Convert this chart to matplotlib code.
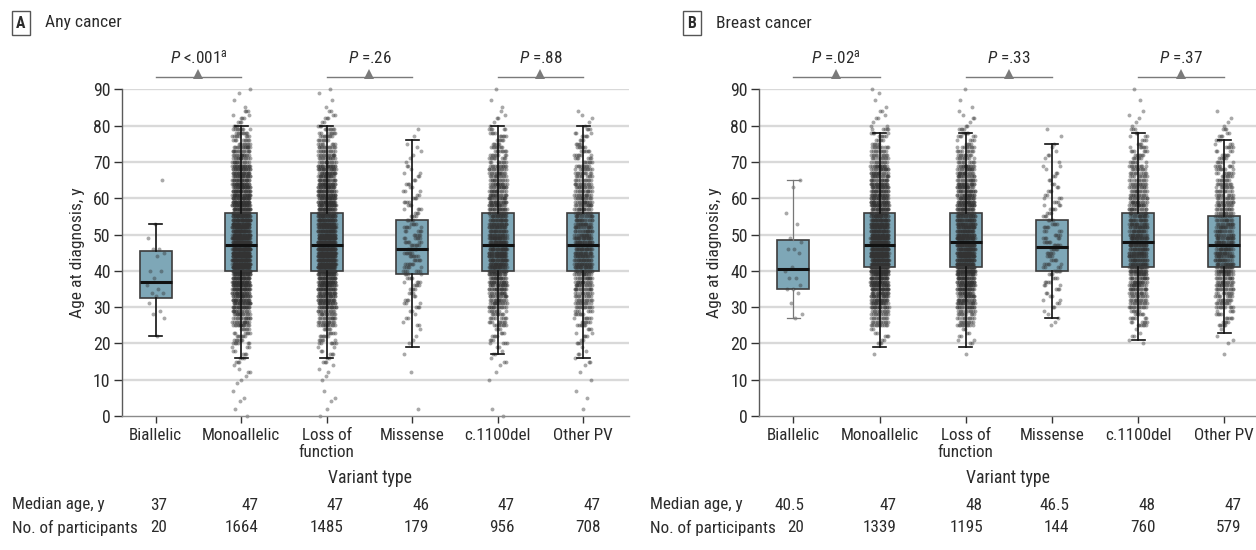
import numpy as np
import matplotlib
matplotlib.use('Agg')
import matplotlib.pyplot as plt
from matplotlib import font_manager
from matplotlib.transforms import blended_transform_factory

# ---------------- data ----------------
categories = ['Biallelic', 'Monoallelic', 'Loss of\nfunction', 'Missense', 'c.1100del', 'Other PV']

# box-plot statistics: (whisker low, Q1, median, Q3, whisker high)
A_whislo = [22, 16, 16, 19, 17, 16]
A_q1 = [32.5, 40, 40, 39, 40, 40]
A_med = [37, 47, 47, 46, 47, 47]
A_q3 = [45.5, 56, 56, 54, 56, 56]
A_whishi = [53, 80, 80, 76, 80, 80]

B_whislo = [27, 19, 19, 27, 21, 23]
B_q1 = [35, 41, 41, 40, 41, 41]
B_med = [40.5, 47, 48, 46.5, 48, 47]
B_q3 = [48.5, 56, 56, 54, 56, 55]
B_whishi = [65, 78, 78, 75, 78, 76]

# individual ages of the small biallelic groups
A_biallelic_ages = [65, 53, 49, 46, 46, 45, 44, 40, 40, 38, 36, 35, 34, 34, 33, 31, 29, 28, 27, 22]
B_biallelic_ages = [65, 63, 56, 53, 49, 48, 46, 46, 45, 41, 40, 38, 38, 36, 35, 35, 34, 31, 28, 27]

# counts of participants per 5-year age bin (0-4, 5-9, ..., 85-89, 90) for the large groups
age_bin_starts = [0, 5, 10, 15, 20, 25, 30, 35, 40, 45, 50, 55, 60, 65, 70, 75, 80, 85, 90]
A_mono_counts = [3, 3, 6, 14, 30, 70, 120, 170, 250, 250, 200, 170, 140, 110, 70, 40, 14, 3, 1]
A_lof_counts = [3, 2, 5, 12, 27, 62, 107, 152, 222, 224, 180, 152, 125, 98, 62, 36, 12, 3, 1]
A_mis_counts = [1, 0, 1, 1, 4, 8, 14, 20, 28, 30, 24, 18, 13, 9, 5, 3, 0, 0, 0]
A_del_counts = [2, 0, 3, 8, 17, 40, 70, 98, 145, 145, 115, 98, 80, 62, 40, 24, 6, 2, 1]
A_oth_counts = [1, 2, 3, 7, 13, 30, 52, 72, 106, 106, 85, 72, 60, 47, 30, 17, 5, 0, 0]

B_mono_counts = [0, 0, 0, 1, 12, 55, 100, 150, 215, 215, 170, 140, 110, 85, 50, 24, 8, 3, 1]
B_lof_counts = [0, 0, 0, 1, 10, 48, 90, 135, 192, 192, 152, 125, 98, 76, 45, 21, 7, 2, 1]
B_mis_counts = [0, 0, 0, 0, 0, 5, 10, 16, 22, 25, 20, 16, 12, 9, 6, 3, 0, 0, 0]
B_del_counts = [0, 0, 0, 0, 6, 30, 58, 85, 120, 122, 98, 80, 62, 48, 30, 14, 5, 1, 1]
B_oth_counts = [0, 0, 0, 1, 4, 22, 44, 65, 92, 92, 72, 60, 48, 37, 24, 14, 4, 0, 0]

A_median_labels = ['37', '47', '47', '46', '47', '47']
A_n_labels = ['20', '1664', '1485', '179', '956', '708']
B_median_labels = ['40.5', '47', '48', '46.5', '48', '47']
B_n_labels = ['20', '1339', '1195', '144', '760', '579']

A_pvals = [r'$\mathit{P}$ <.001$^{\mathrm{a}}$', r'$\mathit{P}$ =.26', r'$\mathit{P}$ =.88']
B_pvals = [r'$\mathit{P}$ =.02$^{\mathrm{a}}$', r'$\mathit{P}$ =.33', r'$\mathit{P}$ =.37']

# ---------------- style ----------------
fl = font_manager.fontManager.ttflist
names = {f.name for f in fl}
MAIN = None
STRETCH = 'normal'
for cand in ['Roboto Condensed', 'Liberation Sans Narrow', 'Open Sans Condensed', 'Arial Narrow']:
    if cand in names:
        MAIN = cand
        break
if MAIN is None:
    if any(f.name == 'DejaVu Sans' and f.stretch == 'condensed' for f in fl):
        MAIN = 'DejaVu Sans'
        STRETCH = 'condensed'
    elif any(f.name == 'Open Sans' and f.stretch in ('condensed', 'semi-condensed') for f in fl):
        MAIN = 'Open Sans'
        STRETCH = 'condensed'
    else:
        MAIN = 'Roboto' if 'Roboto' in names else 'DejaVu Sans'
plt.rcParams['font.family'] = [MAIN, 'DejaVu Sans']
plt.rcParams['font.stretch'] = STRETCH
plt.rcParams['mathtext.fontset'] = 'custom'
plt.rcParams['mathtext.rm'] = MAIN
plt.rcParams['mathtext.it'] = MAIN + ':italic'
plt.rcParams['mathtext.bf'] = MAIN + ':bold'

TXT = '#2b2b2b'
BOX = '#7ea7b7'
FS = 12.3

W, H = 1256, 550
fig = plt.figure(figsize=(W / 100, H / 100), dpi=100)
bottom = 1 - 416 / H
height = (416 - 89.3) / H
axA = fig.add_axes([121.7 / W, bottom, 85.5 * 5.933 / W, height])
axB = fig.add_axes([759 / W, bottom, 86.2 * 5.933 / W, height])

BIN_ORDER = [2, 0, 4, 1, 3]


def ages_from_bins(counts):
    out = []
    for start, c in zip(age_bin_starts, counts):
        for j in range(c):
            if start >= 90:
                out.append(90)
            else:
                out.append(start + BIN_ORDER[j % 5])
    return out


def jitter(n, k0):
    g = 0.6180339887
    return np.array([((k0 + k) * g) % 1.0 - 0.5 for k in range(n)]) * 0.21


def panel(ax, whislo, q1, med, q3, whishi, groups, pvals, med_labels, n_labels,
          label_x, title_letter, title, title_x, vt_x, gray_first_whisker=False):
    pos = np.arange(len(categories))
    ax.set_xlim(-0.398, 5.535)
    ax.set_ylim(0, 90)
    for y in range(10, 91, 10):
        ax.axhline(y, color='#d9d9d9', lw=1.7, zorder=0)

    stats = [dict(whislo=a, q1=b, med=c, q3=d, whishi=e, fliers=[])
             for a, b, c, d, e in zip(whislo, q1, med, q3, whishi)]
    # fill
    ax.bxp(stats, positions=pos, widths=0.37, patch_artist=True, showfliers=False,
           boxprops=dict(facecolor=BOX, edgecolor='none'),
           whiskerprops=dict(linewidth=0), capprops=dict(linewidth=0),
           medianprops=dict(linewidth=0), manage_ticks=False, zorder=1)
    # points
    for i, ages in enumerate(groups):
        ages = np.array(ages, dtype=float)
        xs = pos[i] + jitter(len(ages), 7 * i + 3)
        ax.scatter(xs, ages, s=8, color='#333333', alpha=0.42, linewidths=0,
                   zorder=2, clip_on=False)
    # outlines
    art = ax.bxp(stats, positions=pos, widths=0.37, patch_artist=True, showfliers=False,
                 boxprops=dict(facecolor='none', edgecolor='#3c3c3c', linewidth=1.2),
                 whiskerprops=dict(color='#111111', linewidth=1.2),
                 capprops=dict(color='#111111', linewidth=1.2),
                 medianprops=dict(color='#111111', linewidth=2.2),
                 capwidths=0.15, manage_ticks=False, zorder=3)
    if gray_first_whisker:
        for ln in art['whiskers'][:2] + art['caps'][:2]:
            ln.set_color('#777777')
            ln.set_linewidth(0.9)

    # p-value brackets
    for k, p in enumerate(pvals):
        x0, x1 = pos[2 * k], pos[2 * k + 1]
        xm = (x0 + x1) / 2
        ax.plot([x0, x1], [93.4, 93.4], color='#7a7a7a', lw=1.0, clip_on=False, zorder=4)
        ax.plot([xm], [94.3], marker='^', markersize=6.5, color='#7a7a7a',
                markeredgewidth=0, clip_on=False, zorder=4)
        ax.text(xm, 98.7, p, ha='center', va='center', fontsize=FS, color=TXT, clip_on=False)

    # axes styling
    for s in ['top', 'right']:
        ax.spines[s].set_visible(False)
    ax.spines['left'].set_color('#5a5a5a')
    ax.spines['bottom'].set_color('#8a8a8a')
    ax.spines['left'].set_linewidth(1.0)
    ax.spines['bottom'].set_linewidth(1.0)
    ax.set_yticks(range(0, 91, 10))
    ax.set_xticks(pos)
    ax.set_xticklabels(categories, fontsize=FS, color=TXT, linespacing=1.1)
    ax.tick_params(axis='y', length=6, width=1.0, color='#333333', labelsize=FS + 0.5,
                   labelcolor=TXT, pad=2)
    ax.tick_params(axis='x', length=5, width=1.0, color='#333333', labelsize=FS,
                   labelcolor=TXT, pad=4)
    ax.set_ylabel('Age at diagnosis, y', fontsize=FS + 0.3, color=TXT, labelpad=6)

    # titles
    fig.text(title_x / W, 1 - 23 / H, title_letter, ha='center', va='center',
             fontsize=FS - 1, fontweight='bold', color=TXT,
             bbox=dict(boxstyle='square,pad=0.3', fc='white', ec='#555555', lw=1.0))
    fig.text((title_x + 24) / W, 1 - 23 / H, title, ha='left', va='center',
             fontsize=FS + 0.3, color=TXT)

    fig.text(vt_x / W, 1 - 478 / H, 'Variant type', ha='center', va='center',
             fontsize=FS + 0.5, color=TXT)

    # bottom table
    tr = blended_transform_factory(ax.transData, fig.transFigure)
    fig.text(label_x / W, 1 - 505 / H, 'Median age, y', ha='left', va='center',
             fontsize=FS, color=TXT)
    fig.text(label_x / W, 1 - 528 / H, 'No. of participants', ha='left', va='center',
             fontsize=FS, color=TXT)
    for i in range(len(categories)):
        off = 0.13 if i == 0 else 0.2
        ax.text(pos[i] + off, 1 - 505 / H, med_labels[i], transform=tr, ha='right',
                va='center', fontsize=FS, color=TXT, clip_on=False)
        ax.text(pos[i] + off, 1 - 528 / H, n_labels[i], transform=tr, ha='right',
                va='center', fontsize=FS, color=TXT, clip_on=False)


A_groups = [A_biallelic_ages, ages_from_bins(A_mono_counts), ages_from_bins(A_lof_counts),
            ages_from_bins(A_mis_counts), ages_from_bins(A_del_counts), ages_from_bins(A_oth_counts)]
B_groups = [B_biallelic_ages, ages_from_bins(B_mono_counts), ages_from_bins(B_lof_counts),
            ages_from_bins(B_mis_counts), ages_from_bins(B_del_counts), ages_from_bins(B_oth_counts)]

panel(axA, A_whislo, A_q1, A_med, A_q3, A_whishi, A_groups, A_pvals,
      A_median_labels, A_n_labels, 12, 'A', 'Any cancer', 21, 370)
panel(axB, B_whislo, B_q1, B_med, B_q3, B_whishi, B_groups, B_pvals,
      B_median_labels, B_n_labels, 650, 'B', 'Breast cancer', 692, 1008,
      gray_first_whisker=True)

fig.savefig('out.png', dpi=100)
